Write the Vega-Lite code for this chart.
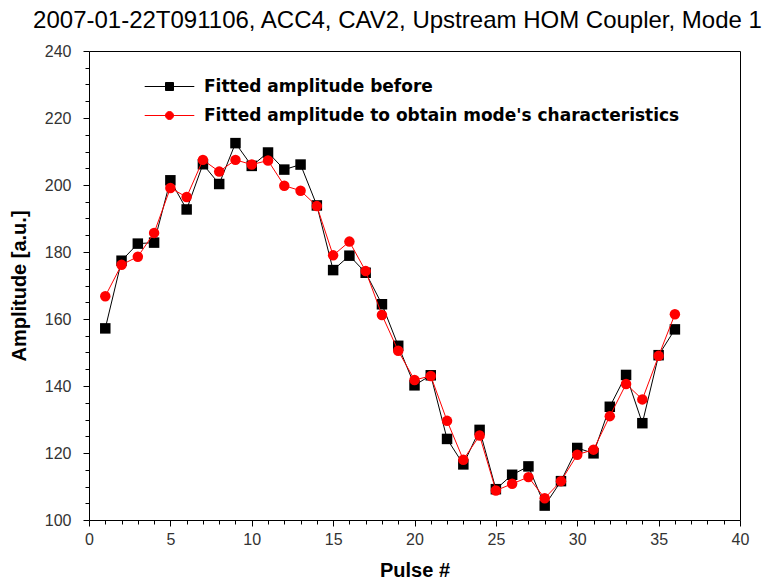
{
  "$schema": "https://vega.github.io/schema/vega-lite/v6.json",
  "autosize": "none",
  "width": 651,
  "height": 469,
  "padding": {"left": 89, "top": 51, "right": 29, "bottom": 61},
  "background": "white",
  "title": {
    "text": "2007-01-22T091106, ACC4, CAV2, Upstream HOM Coupler, Mode 1",
    "font": "Liberation Sans",
    "fontSize": 24,
    "fontWeight": "normal",
    "color": "black",
    "anchor": "middle",
    "dx": -17,
    "offset": 10
  },
  "config": {
    "view": {"stroke": "black", "strokeWidth": 1},
    "axis": {
      "domain": false,
      "grid": false,
      "labelFont": "Liberation Sans",
      "labelFontSize": 16,
      "labelColor": "#333333",
      "tickColor": "black",
      "titleFont": "Liberation Sans",
      "titleFontSize": 20,
      "titleFontWeight": "bold",
      "titleColor": "black"
    }
  },
  "datasets": {
    "amps": [
      {"pulse": 1, "amp": 157.2, "series": "Fitted amplitude before"},
      {"pulse": 2, "amp": 177.4, "series": "Fitted amplitude before"},
      {"pulse": 3, "amp": 182.5, "series": "Fitted amplitude before"},
      {"pulse": 4, "amp": 182.8, "series": "Fitted amplitude before"},
      {"pulse": 5, "amp": 201.4, "series": "Fitted amplitude before"},
      {"pulse": 6, "amp": 192.7, "series": "Fitted amplitude before"},
      {"pulse": 7, "amp": 206.2, "series": "Fitted amplitude before"},
      {"pulse": 8, "amp": 200.3, "series": "Fitted amplitude before"},
      {"pulse": 9, "amp": 212.5, "series": "Fitted amplitude before"},
      {"pulse": 10, "amp": 205.7, "series": "Fitted amplitude before"},
      {"pulse": 11, "amp": 209.7, "series": "Fitted amplitude before"},
      {"pulse": 12, "amp": 204.6, "series": "Fitted amplitude before"},
      {"pulse": 13, "amp": 206.1, "series": "Fitted amplitude before"},
      {"pulse": 14, "amp": 193.9, "series": "Fitted amplitude before"},
      {"pulse": 15, "amp": 174.6, "series": "Fitted amplitude before"},
      {"pulse": 16, "amp": 178.9, "series": "Fitted amplitude before"},
      {"pulse": 17, "amp": 173.8, "series": "Fitted amplitude before"},
      {"pulse": 18, "amp": 164.4, "series": "Fitted amplitude before"},
      {"pulse": 19, "amp": 152.0, "series": "Fitted amplitude before"},
      {"pulse": 20, "amp": 140.2, "series": "Fitted amplitude before"},
      {"pulse": 21, "amp": 143.2, "series": "Fitted amplitude before"},
      {"pulse": 22, "amp": 124.2, "series": "Fitted amplitude before"},
      {"pulse": 23, "amp": 116.6, "series": "Fitted amplitude before"},
      {"pulse": 24, "amp": 126.9, "series": "Fitted amplitude before"},
      {"pulse": 25, "amp": 109.2, "series": "Fitted amplitude before"},
      {"pulse": 26, "amp": 113.5, "series": "Fitted amplitude before"},
      {"pulse": 27, "amp": 116.0, "series": "Fitted amplitude before"},
      {"pulse": 28, "amp": 104.3, "series": "Fitted amplitude before"},
      {"pulse": 29, "amp": 111.6, "series": "Fitted amplitude before"},
      {"pulse": 30, "amp": 121.5, "series": "Fitted amplitude before"},
      {"pulse": 31, "amp": 119.9, "series": "Fitted amplitude before"},
      {"pulse": 32, "amp": 133.8, "series": "Fitted amplitude before"},
      {"pulse": 33, "amp": 143.3, "series": "Fitted amplitude before"},
      {"pulse": 34, "amp": 128.9, "series": "Fitted amplitude before"},
      {"pulse": 35, "amp": 149.2, "series": "Fitted amplitude before"},
      {"pulse": 36, "amp": 156.9, "series": "Fitted amplitude before"},
      {"pulse": 1, "amp": 166.8, "series": "Fitted amplitude to obtain mode's characteristics"},
      {"pulse": 2, "amp": 176.2, "series": "Fitted amplitude to obtain mode's characteristics"},
      {"pulse": 3, "amp": 178.6, "series": "Fitted amplitude to obtain mode's characteristics"},
      {"pulse": 4, "amp": 185.7, "series": "Fitted amplitude to obtain mode's characteristics"},
      {"pulse": 5, "amp": 199.1, "series": "Fitted amplitude to obtain mode's characteristics"},
      {"pulse": 6, "amp": 196.4, "series": "Fitted amplitude to obtain mode's characteristics"},
      {"pulse": 7, "amp": 207.5, "series": "Fitted amplitude to obtain mode's characteristics"},
      {"pulse": 8, "amp": 204.0, "series": "Fitted amplitude to obtain mode's characteristics"},
      {"pulse": 9, "amp": 207.5, "series": "Fitted amplitude to obtain mode's characteristics"},
      {"pulse": 10, "amp": 206.1, "series": "Fitted amplitude to obtain mode's characteristics"},
      {"pulse": 11, "amp": 207.3, "series": "Fitted amplitude to obtain mode's characteristics"},
      {"pulse": 12, "amp": 199.8, "series": "Fitted amplitude to obtain mode's characteristics"},
      {"pulse": 13, "amp": 198.3, "series": "Fitted amplitude to obtain mode's characteristics"},
      {"pulse": 14, "amp": 193.7, "series": "Fitted amplitude to obtain mode's characteristics"},
      {"pulse": 15, "amp": 179.0, "series": "Fitted amplitude to obtain mode's characteristics"},
      {"pulse": 16, "amp": 183.1, "series": "Fitted amplitude to obtain mode's characteristics"},
      {"pulse": 17, "amp": 174.3, "series": "Fitted amplitude to obtain mode's characteristics"},
      {"pulse": 18, "amp": 161.2, "series": "Fitted amplitude to obtain mode's characteristics"},
      {"pulse": 19, "amp": 150.5, "series": "Fitted amplitude to obtain mode's characteristics"},
      {"pulse": 20, "amp": 141.8, "series": "Fitted amplitude to obtain mode's characteristics"},
      {"pulse": 21, "amp": 143.0, "series": "Fitted amplitude to obtain mode's characteristics"},
      {"pulse": 22, "amp": 129.6, "series": "Fitted amplitude to obtain mode's characteristics"},
      {"pulse": 23, "amp": 118.0, "series": "Fitted amplitude to obtain mode's characteristics"},
      {"pulse": 24, "amp": 125.2, "series": "Fitted amplitude to obtain mode's characteristics"},
      {"pulse": 25, "amp": 108.8, "series": "Fitted amplitude to obtain mode's characteristics"},
      {"pulse": 26, "amp": 110.8, "series": "Fitted amplitude to obtain mode's characteristics"},
      {"pulse": 27, "amp": 112.8, "series": "Fitted amplitude to obtain mode's characteristics"},
      {"pulse": 28, "amp": 106.5, "series": "Fitted amplitude to obtain mode's characteristics"},
      {"pulse": 29, "amp": 111.6, "series": "Fitted amplitude to obtain mode's characteristics"},
      {"pulse": 30, "amp": 119.5, "series": "Fitted amplitude to obtain mode's characteristics"},
      {"pulse": 31, "amp": 121.0, "series": "Fitted amplitude to obtain mode's characteristics"},
      {"pulse": 32, "amp": 131.0, "series": "Fitted amplitude to obtain mode's characteristics"},
      {"pulse": 33, "amp": 140.6, "series": "Fitted amplitude to obtain mode's characteristics"},
      {"pulse": 34, "amp": 136.0, "series": "Fitted amplitude to obtain mode's characteristics"},
      {"pulse": 35, "amp": 149.0, "series": "Fitted amplitude to obtain mode's characteristics"},
      {"pulse": 36, "amp": 161.4, "series": "Fitted amplitude to obtain mode's characteristics"}
    ]
  },
  "data": {"name": "amps"},
  "resolve": {"axis": {"x": "independent", "y": "independent"}},
  "layer": [
    {
      "transform": [{"filter": "datum.series === 'Fitted amplitude before'"}],
      "mark": {"type": "line", "strokeWidth": 1},
      "encoding": {
        "x": {
          "field": "pulse", "type": "quantitative",
          "scale": {"domain": [0, 40], "nice": false, "zero": false},
          "axis": {
            "orient": "bottom",
            "title": "Pulse #",
            "titlePadding": 13,
            "values": [0,1,2,3,4,5,6,7,8,9,10,11,12,13,14,15,16,17,18,19,20,21,22,23,24,25,26,27,28,29,30,31,32,33,34,35,36,37,38,39,40],
            "tickSize": {"condition": {"test": "datum.value % 5 === 0", "value": 6}, "value": 4},
            "labelExpr": "datum.value % 5 === 0 ? datum.label : ''",
            "labelPadding": 5,
            "labelFlush": false,
            "labelOverlap": false
          }
        },
        "y": {
          "field": "amp", "type": "quantitative",
          "scale": {"domain": [100, 240], "nice": false, "zero": false},
          "axis": {
            "orient": "left",
            "title": "Amplitude [a.u.]",
            "titlePadding": 15,
            "values": [100,105,110,115,120,125,130,135,140,145,150,155,160,165,170,175,180,185,190,195,200,205,210,215,220,225,230,235,240],
            "tickSize": {"condition": {"test": "datum.value % 20 === 0", "value": 6}, "value": 4},
            "labelExpr": "datum.value % 20 === 0 ? datum.label : ''",
            "labelPadding": 12,
            "labelFlush": false,
            "labelOverlap": false
          }
        },
        "color": {
          "field": "series", "type": "nominal",
          "scale": {"domain": ["Fitted amplitude before", "Fitted amplitude to obtain mode's characteristics"], "range": ["black", "#ff0000"]},
          "legend": {
            "title": null,
            "orient": "none",
            "legendX": 72,
            "legendY": 27,
            "labelFont": "DejaVu Sans",
            "labelFontSize": 17,
            "labelFontWeight": "bold",
            "labelColor": "black",
            "labelOffset": 26,
            "labelLimit": 600,
            "rowPadding": 11,
            "symbolSize": 64,
            "symbolStrokeWidth": 1,
            "encode": {
              "symbols": {
                "update": {
                  "shape": {"signal": "datum.value === 'Fitted amplitude before' ? 'M-6.2,0H6.2M-1,-1H1V1H-1Z' : 'M-6.2,0H6.2M-1,0A1,1 0 1,0 1,0A1,1 0 1,0 -1,0Z'"},
                  "fill": {"signal": "datum.value === 'Fitted amplitude before' ? 'black' : '#ff0000'"},
                  "stroke": {"signal": "datum.value === 'Fitted amplitude before' ? 'black' : '#ff0000'"},
                  "opacity": {"value": 1},
                  "strokeWidth": {"value": 1}
                }
              }
            }
          }
        }
      }
    },
    {
      "transform": [{"filter": "datum.series === 'Fitted amplitude before'"}],
      "mark": {"type": "point", "shape": "square", "filled": true, "opacity": 1, "size": 110},
      "encoding": {
        "x": {"field": "pulse", "type": "quantitative", "axis": null},
        "y": {"field": "amp", "type": "quantitative", "axis": null},
        "color": {"field": "series", "type": "nominal", "legend": null}
      }
    },
    {
      "transform": [{"filter": "datum.series !== 'Fitted amplitude before'"}],
      "mark": {"type": "line", "strokeWidth": 1},
      "encoding": {
        "x": {"field": "pulse", "type": "quantitative", "axis": null},
        "y": {"field": "amp", "type": "quantitative", "axis": null},
        "color": {"field": "series", "type": "nominal", "legend": null}
      }
    },
    {
      "transform": [{"filter": "datum.series !== 'Fitted amplitude before'"}],
      "mark": {"type": "point", "shape": "circle", "filled": true, "opacity": 1, "size": 110},
      "encoding": {
        "x": {"field": "pulse", "type": "quantitative", "axis": null},
        "y": {"field": "amp", "type": "quantitative", "axis": null},
        "color": {"field": "series", "type": "nominal", "legend": null}
      }
    }
  ]
}
